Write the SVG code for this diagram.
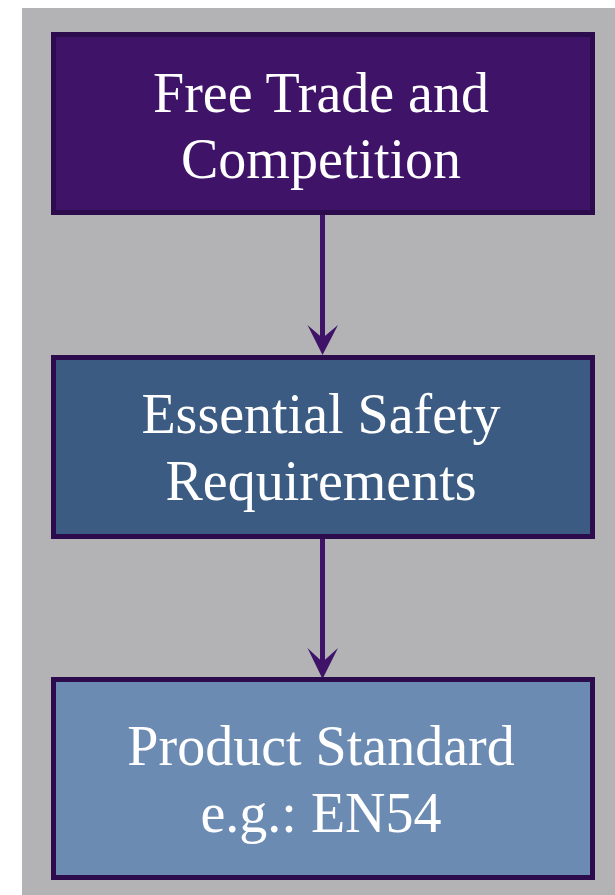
<svg xmlns="http://www.w3.org/2000/svg" width="615" height="895" viewBox="0 0 615 895">
<style>
.box{stroke:#2c0c4c;stroke-width:5}
.t{font-family:"Liberation Serif","Times New Roman",serif;font-size:56px;fill:#ffffff;text-anchor:middle}
.ln{stroke:#3f1368;stroke-width:5;fill:none}
.ah{fill:#3f1368}
</style>
<rect x="0" y="0" width="615" height="895" fill="#ffffff"/>
<rect x="22" y="8" width="593" height="887" fill="#b3b3b5"/>
<g id="connectors">
<line class="ln" x1="322.5" y1="215" x2="322.5" y2="340"/>
<polygon class="ah" points="322.5,355 307.5,325 322.5,338 338,325"/>
<line class="ln" x1="322.5" y1="539" x2="322.5" y2="664"/>
<polygon class="ah" points="322.5,679 307.5,648 322.5,662 338,648"/>
</g>
<g id="node1">
<rect class="box" x="53.5" y="34.5" width="539" height="178" fill="#3f1368"/>
<text class="t" x="321" y="112">Free Trade and</text>
<text class="t" x="321" y="178">Competition</text>
</g>
<g id="node2">
<rect class="box" x="53.5" y="357.5" width="539" height="179" fill="#3b5b82"/>
<text class="t" x="321" y="433">Essential Safety</text>
<text class="t" x="321" y="500">Requirements</text>
</g>
<g id="node3">
<rect class="box" x="53.5" y="679.5" width="539" height="198" fill="#6c8bb2"/>
<text class="t" x="321" y="765">Product Standard</text>
<text class="t" x="321" y="832">e.g.: EN54</text>
</g>
</svg>
